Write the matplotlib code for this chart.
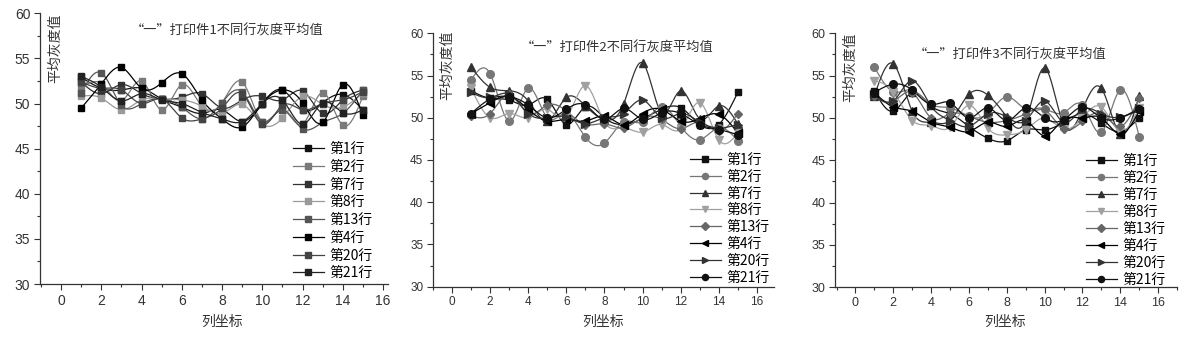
import numpy as np
import matplotlib
matplotlib.use("Agg")
import matplotlib.pyplot as plt
from matplotlib.ticker import MultipleLocator

plt.rcParams['font.family'] = ['Noto Sans CJK SC', 'DejaVu Sans']

W, H = 1189, 339

cols = list(range(1, 16))
row_labels = ["第1行", "第2行", "第7行", "第8行", "第13行", "第4行", "第20行", "第21行"]
titles = ["“一”打印件1不同行灰度平均值", "“一”打印件2不同行灰度平均值", "“一”打印件3不同行灰度平均值"]
ylabel = "平均灰度值"
xlabel = "列坐标"

# panel 1 (print 1)
p1_r1 = [52.9, 51.7, 51.5, 51.7, 50.5, 49.6, 48.9, 49.3, 48.0, 50.0, 51.5, 49.3, 50.1, 51.0, 49.3]
p1_r2 = [51.7, 52.2, 50.3, 52.5, 49.3, 52.1, 49.7, 50.1, 52.4, 48.0, 49.3, 47.7, 51.2, 47.6, 50.8]
p1_r7 = [52.4, 51.1, 52.1, 51.1, 50.5, 50.7, 51.1, 49.5, 50.4, 50.8, 50.4, 51.4, 48.9, 50.4, 51.5]
p1_r8 = [50.8, 50.6, 49.3, 50.4, 50.5, 50.4, 49.7, 48.9, 49.9, 47.7, 48.4, 50.8, 49.9, 49.6, 51.2]
p1_r13 = [51.2, 53.4, 49.8, 50.0, 50.5, 49.6, 48.3, 50.1, 51.3, 48.0, 49.3, 47.2, 47.9, 48.9, 51.5]
p1_r4 = [49.5, 52.2, 54.0, 51.7, 52.3, 53.3, 50.4, 48.3, 47.4, 50.0, 51.5, 50.1, 47.9, 52.1, 48.7]
p1_r20 = [52.4, 51.7, 51.5, 50.0, 50.5, 48.4, 48.3, 49.5, 51.1, 47.7, 49.8, 49.3, 50.0, 50.4, 51.3]
p1_r21 = [53.0, 51.8, 50.3, 51.1, 50.4, 50.0, 49.0, 48.3, 48.0, 50.0, 50.4, 47.7, 50.1, 49.0, 49.3]

# panel 2 (print 2)
p2_r1 = [53.2, 52.3, 52.1, 51.5, 52.2, 49.2, 51.3, 50.0, 49.2, 49.9, 51.0, 51.2, 49.2, 49.2, 53.0]
p2_r2 = [54.5, 55.2, 49.6, 53.5, 50.0, 50.5, 47.7, 47.0, 49.5, 49.5, 51.3, 49.0, 47.4, 48.8, 47.3]
p2_r7 = [56.0, 53.6, 53.2, 52.0, 49.6, 52.4, 51.4, 49.8, 51.6, 56.5, 50.6, 53.2, 49.9, 51.4, 49.3]
p2_r8 = [53.5, 50.0, 50.5, 50.0, 51.0, 50.1, 53.8, 49.5, 48.8, 48.3, 49.2, 48.7, 51.8, 47.4, 48.2]
p2_r13 = [50.2, 50.5, 52.8, 50.5, 51.5, 50.8, 49.2, 49.3, 48.8, 50.0, 49.8, 48.7, 49.5, 48.4, 50.5]
p2_r4 = [50.5, 51.8, 52.5, 51.0, 49.6, 49.8, 49.6, 50.2, 49.2, 50.5, 51.0, 49.6, 49.9, 50.4, 48.2]
p2_r20 = [53.0, 52.4, 52.8, 50.5, 50.0, 50.1, 49.3, 50.0, 50.5, 52.1, 50.0, 50.5, 49.5, 48.8, 49.2]
p2_r21 = [50.5, 52.2, 52.5, 51.5, 50.0, 51.0, 51.5, 49.8, 51.1, 49.8, 50.6, 50.5, 49.2, 48.6, 48.0]

# panel 3 (print 3)
p3_r1 = [53.2, 50.8, 53.0, 51.4, 50.5, 49.0, 47.6, 47.3, 48.6, 48.6, 49.5, 50.5, 49.4, 48.4, 50.0]
p3_r2 = [56.0, 53.1, 53.3, 51.6, 51.2, 50.2, 50.5, 52.5, 51.0, 51.0, 50.6, 51.5, 48.3, 53.3, 47.8]
p3_r7 = [52.6, 56.4, 50.8, 49.5, 49.7, 52.8, 52.7, 50.1, 49.7, 55.9, 49.2, 51.0, 53.5, 48.1, 52.6]
p3_r8 = [54.4, 53.1, 49.7, 49.1, 48.9, 51.5, 48.8, 48.0, 48.6, 50.0, 48.7, 50.0, 51.3, 48.4, 51.2]
p3_r13 = [52.6, 52.0, 53.0, 50.0, 50.5, 50.2, 49.5, 49.7, 50.5, 51.0, 48.7, 49.6, 50.5, 49.0, 52.3]
p3_r4 = [53.0, 51.3, 50.8, 49.5, 48.9, 48.4, 49.5, 49.0, 49.7, 47.9, 49.8, 50.0, 50.0, 48.1, 50.8]
p3_r20 = [52.8, 52.0, 54.4, 51.4, 49.7, 49.0, 50.5, 50.1, 49.7, 52.0, 49.5, 51.0, 50.5, 50.1, 51.2]
p3_r21 = [53.0, 54.0, 53.3, 51.6, 51.8, 50.0, 51.2, 49.7, 51.2, 50.0, 49.8, 51.3, 50.0, 50.0, 51.0]

panels = [
    [p1_r1, p1_r2, p1_r7, p1_r8, p1_r13, p1_r4, p1_r20, p1_r21],
    [p2_r1, p2_r2, p2_r7, p2_r8, p2_r13, p2_r4, p2_r20, p2_r21],
    [p3_r1, p3_r2, p3_r7, p3_r8, p3_r13, p3_r4, p3_r20, p3_r21],
]


def smooth(x, y, n=20):
    """Natural cubic spline through the points (rendering only)."""
    x = np.asarray(x, float)
    y = np.asarray(y, float)
    m = len(x)
    h = np.diff(x)
    A = np.zeros((m, m))
    b = np.zeros(m)
    A[0, 0] = A[-1, -1] = 1
    for i in range(1, m - 1):
        A[i, i - 1] = h[i - 1]
        A[i, i] = 2 * (h[i - 1] + h[i])
        A[i, i + 1] = h[i]
        b[i] = 3 * ((y[i + 1] - y[i]) / h[i] - (y[i] - y[i - 1]) / h[i - 1])
    c = np.linalg.solve(A, b)
    xs, ys = [], []
    for i in range(m - 1):
        bi = (y[i + 1] - y[i]) / h[i] - h[i] * (2 * c[i] + c[i + 1]) / 3
        di = (c[i + 1] - c[i]) / (3 * h[i])
        t = np.linspace(0, h[i], n, endpoint=(i == m - 2))
        xs.append(x[i] + t)
        ys.append(y[i] + bi * t + c[i] * t ** 2 + di * t ** 3)
    return np.concatenate(xs), np.concatenate(ys)


fig = plt.figure(figsize=(W / 100, H / 100), dpi=100)

# axes rectangles in pixels: left, right, top(y of 60), bottom(y of 30), xmin, xmax
rects = [
    (40, 388, 13.3, 284.0, -1.05, 16.25),
    (433, 774, 33.3, 286.7, -1.0, 16.9),
    (835, 1177, 33.3, 287.3, -1.08, 17.0),
]

p1_colors = ['#111111', '#7a7a7a', '#333333', '#9a9a9a', '#555555', '#000000', '#444444', '#222222']
p23_colors = ['#111111', '#777777', '#333333', '#a0a0a0', '#666666', '#000000', '#333333', '#111111']
p23_markers = ['s', 'o', '^', 'v', 'D', '<', '>', 'o']
p23_msize = [5, 5.5, 6, 6, 4.5, 6, 6, 5.5]

title_pos = [(227, 31), (617, 48), (1010, 55)]
ylabel_pos = [(55, 48), (447, 65), (850, 67)]
xlabel_pos = [(222, 322), (603, 322), (1005, 322)]
legend_anchor = [(293, 142), (690, 153), (1086, 154)]
legend_spacing = [0.27, 0.2, 0.21]
legend_mscale = [1.0, 0.8, 0.8]
tick_fs = [10, 8.5, 9]

for k in range(3):
    l, r, t, btm, x0, x1 = rects[k]
    ax = fig.add_axes([l / W, 1 - btm / H, (r - l) / W, (btm - t) / H])
    ax.set_xlim(x0, x1)
    ax.set_ylim(30, 60)
    for side in ('top', 'right'):
        ax.spines[side].set_visible(False)
    for side in ('left', 'bottom'):
        ax.spines[side].set_linewidth(0.9)
        ax.spines[side].set_color('#333333')
    ax.xaxis.set_major_locator(MultipleLocator(2))
    ax.xaxis.set_minor_locator(MultipleLocator(1))
    ax.yaxis.set_major_locator(MultipleLocator(5))
    ax.yaxis.set_minor_locator(MultipleLocator(2.5))
    ax.tick_params(which='major', length=4, width=0.8, color='#333333',
                   labelsize=tick_fs[k], labelcolor='#333333', pad=3)
    ax.tick_params(which='minor', length=2, width=0.8, color='#333333')
    for lab in ax.get_xticklabels() + ax.get_yticklabels():
        lab.set_family(['Liberation Sans', 'DejaVu Sans'])

    handles = []
    for i, ser in enumerate(panels[k]):
        if k == 0:
            col, mk, ms = p1_colors[i], 's', 5
        else:
            col, mk, ms = p23_colors[i], p23_markers[i], p23_msize[i]
        xs, ys = smooth(cols, ser)
        ax.plot(xs, ys, color=col, lw=0.9, zorder=2)
        ax.plot(cols, ser, linestyle='none', marker=mk, ms=ms, color=col,
                markeredgecolor=col, zorder=3)
        h, = ax.plot([], [], color=col, lw=0.9, marker=mk, ms=ms,
                     markeredgecolor=col, label=row_labels[i])
        handles.append(h)

    lx, ly = legend_anchor[k]
    ax.legend(handles=handles, loc='upper left',
              bbox_to_anchor=(lx / W, 1 - ly / H), bbox_transform=fig.transFigure,
              frameon=False, fontsize=10, handlelength=2.2, handletextpad=0.4,
              labelspacing=legend_spacing[k], borderpad=0, borderaxespad=0,
              markerscale=legend_mscale[k])

    tx, ty = title_pos[k]
    fig.text(tx / W, 1 - ty / H, titles[k], ha='center', va='center',
             fontsize=9.5, color='#333333')
    yx, yy = ylabel_pos[k]
    fig.text(yx / W, 1 - yy / H, ylabel, ha='center', va='center', rotation=90,
             fontsize=10, color='#333333')
    xx, xy = xlabel_pos[k]
    fig.text(xx / W, 1 - xy / H, xlabel, ha='center', va='center',
             fontsize=10, color='#333333')

fig.savefig('out.png', dpi=100, facecolor='white')
